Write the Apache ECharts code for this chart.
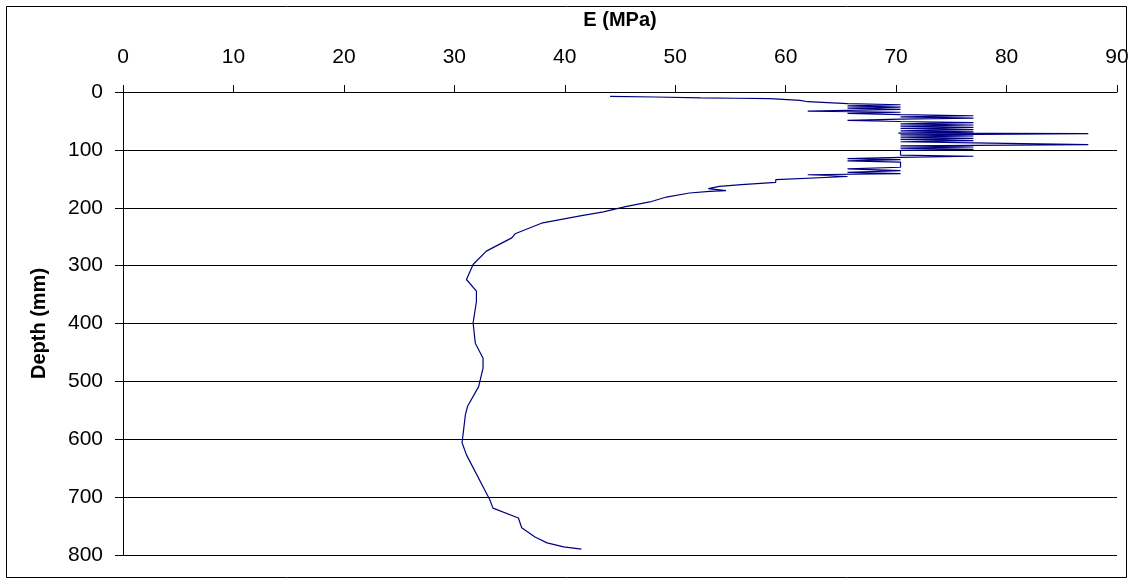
<!DOCTYPE html>
<html>
<head>
<meta charset="utf-8">
<script src="https://cdn.jsdelivr.net/npm/echarts@6/dist/echarts.min.js"></script>
<style>
html,body{margin:0;padding:0;background:#fff;}
#chart{width:1133px;height:584px;}
</style>
</head>
<body>
<div id="chart"></div>
<script>
// E (MPa) values
var modulus = [44.1,48.2,52.3,55.5,58.6,61.3,62.0,65.6,
  70.4,65.6,70.4,65.6,70.4,62.0,70.4,65.6,70.4,77.0,70.4,77.0,70.4,65.6,70.4,77.0,70.4,77.0,70.4,77.0,70.4,77.0,70.4,77.0,70.2,87.4,70.4,77.0,70.4,77.0,70.4,77.0,70.4,77.0,87.4,70.4,77.0,70.4,77.0,70.4,70.4,77.0,70.4,65.6,70.4,65.6,70.4,70.4,65.6,70.4,65.6,70.4,62.0,65.6,
  59.1,59.1,56.0,54.0,53.0,54.6,53.1,51.3,49.2,47.7,45.5,43.5,41.4,38.0,35.5,35.2,32.9,31.7,31.1,32.0,32.0,31.7,31.9,32.6,32.6,32.2,31.2,31.0,30.7,31.1,33.2,33.5,35.8,36.1,37.3,38.4,39.9,41.5];
// Depth (mm) values
var depth = [7.6,8.6,10.0,10.8,11.6,14.5,16.8,20.2,
  22,24,26,28,30,33,35,37,39,41,43,45,47,49,51,53,55,57,59,61,63,65,67,69,71,72,74,76,78,80,82,84,86,88,91,93,95,97,99,101,109,111,113,115,117,119,121,130,133,136,139,141,143,146,
  151.5,156,160,163,167,170.5,171.7,174.5,181.5,190,198,207,214,226,245,252,275,298,324,344,362,399,434,460,477,509,543,558,606,627,704,719,736,753,769,779,786,790];
var xTicks = [0,10,20,30,40,50,60,70,80,90];
var yTicks = [0,100,200,300,400,500,600,700,800];

var pts = modulus.map(function(e,i){return [e, depth[i]];});
var chart = echarts.init(document.getElementById('chart'), null, {renderer:'canvas'});
var font = '"Liberation Sans", Arial, sans-serif';
chart.setOption({
  backgroundColor:'#fff',
  animation:false,
  graphic:[{type:'rect', shape:{x:6.5,y:6.5,width:1120,height:571}, style:{fill:'none', stroke:'#000', lineWidth:1}, z:-1}],
  grid:{left:123, right:16, top:92, bottom:29, containLabel:false, outerBoundsMode:'none'},
  xAxis:{type:'value', position:'top', min:xTicks[0], max:xTicks[xTicks.length-1], interval:10,
    name:'E (MPa)', nameLocation:'middle', nameGap:62,
    nameTextStyle:{fontFamily:font, fontWeight:'bold', fontSize:20, color:'#000'},
    axisLine:{show:true, onZero:false, lineStyle:{color:'#000', width:1}},
    axisTick:{show:true, inside:false, length:7, lineStyle:{color:'#000'}},
    axisLabel:{fontFamily:font, fontSize:21, color:'#000', margin:24},
    splitLine:{show:false}},
  yAxis:{type:'value', inverse:true, min:yTicks[0], max:yTicks[yTicks.length-1], interval:100,
    name:'Depth (mm)', nameLocation:'middle', nameGap:74, nameRotate:90,
    nameTextStyle:{fontFamily:font, fontWeight:'bold', fontSize:20, color:'#000'},
    axisLine:{show:true, onZero:false, lineStyle:{color:'#000', width:1}},
    axisTick:{show:true, inside:false, length:8, lineStyle:{color:'#000'}},
    axisLabel:{fontFamily:font, fontSize:21, color:'#000', margin:20},
    splitLine:{show:true, lineStyle:{color:'#000', width:1}}},
  series:[{type:'line', data:pts, showSymbol:false, symbol:'none',
    lineStyle:{color:'#000080', width:1.2}, clip:false}]
});
</script>
</body>
</html>
